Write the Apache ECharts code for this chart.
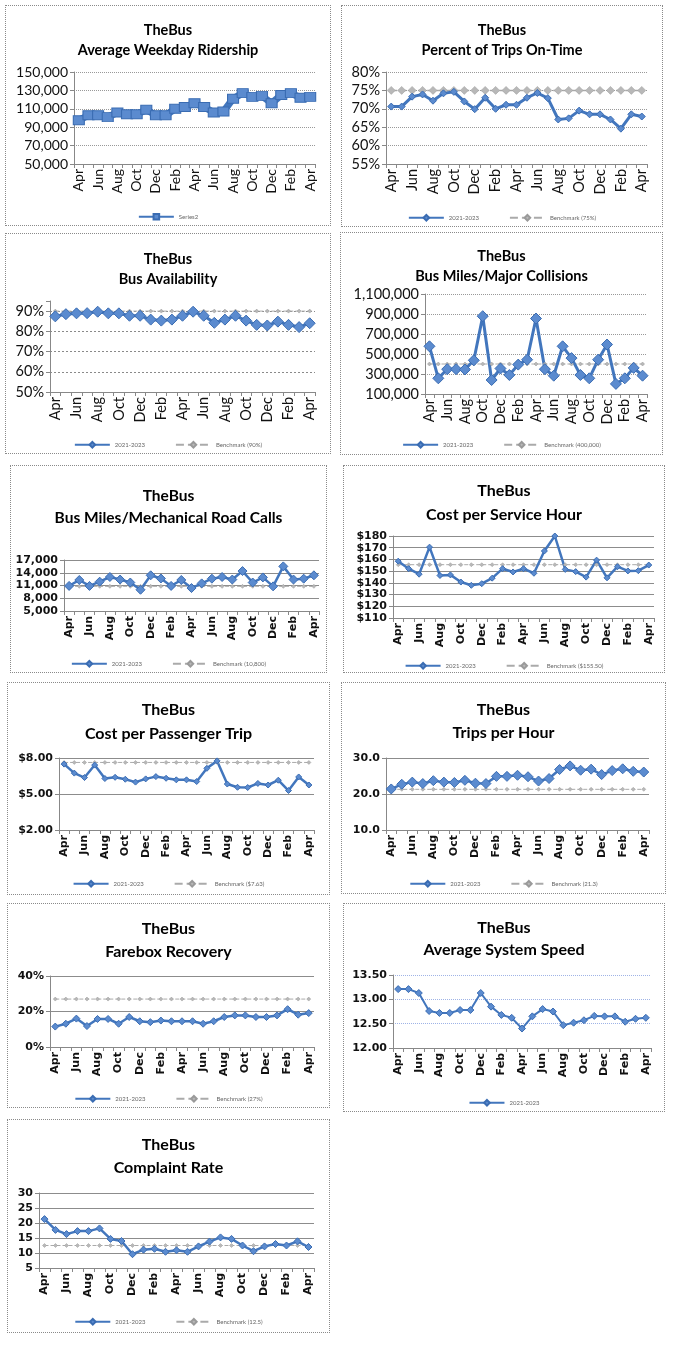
<!DOCTYPE html>
<html><head><meta charset="utf-8">
<script src="https://cdn.jsdelivr.net/npm/echarts/dist/echarts.min.js"></script>
<style>
html,body{margin:0;padding:0;background:#fff;}
body{width:679px;height:1346px;position:relative;overflow:hidden;}
.p{position:absolute;border:1px dotted #8a8a8a;box-sizing:border-box;background:#fff;}
</style></head><body>
<script>
// ---------- DATA ----------
const months = ['Apr','May','Jun','Jul','Aug','Sep','Oct','Nov','Dec','Jan','Feb','Mar','Apr','May','Jun','Jul','Aug','Sep','Oct','Nov','Dec','Jan','Feb','Mar','Apr'];

const ridership = [97500,103000,103000,101000,106000,104000,104000,109000,103000,103000,110000,112000,116000,112000,106000,107000,121000,127000,123000,124000,116000,125000,127000,122000,123000];
const onTime = [70.6,70.6,73.3,73.9,72.2,74.2,74.6,72.0,69.9,73.0,70.0,71.1,71.1,73.0,74.3,72.9,67.1,67.4,69.5,68.5,68.5,67.1,64.6,68.5,67.9];
const availability = [87.4,88.5,88.9,89.0,89.7,88.9,88.9,87.7,87.7,85.8,85.3,85.8,87.7,89.7,87.7,84.2,85.8,87.7,85.3,83.2,82.9,84.8,83.2,82.1,84.0];
const collisions = [577000,257000,348000,348000,345000,437000,878000,240000,355000,290000,394000,443000,855000,348000,283000,577000,459000,290000,257000,443000,595000,201000,257000,361000,283000];
const roadCalls = [10900,12300,10900,11900,13000,12400,11700,10000,13400,12650,10900,12300,10400,11500,12600,13000,12400,14400,11700,12900,10800,15500,12400,12600,13400];
const costHour = [158.5,152.1,147.4,170.5,146.3,146.8,140.7,137.9,139.3,144.0,152.1,149.3,152.1,148.2,167.2,180.0,151.5,149.6,144.9,159.4,144.3,153.8,150.2,150.4,155.2];
const costTrip = [7.49,6.74,6.37,7.41,6.29,6.39,6.23,5.99,6.26,6.45,6.31,6.18,6.18,6.04,7.14,7.76,5.83,5.56,5.54,5.88,5.75,6.15,5.29,6.42,5.75];
const tripsHour = [21.4,22.7,23.3,22.9,23.7,23.3,23.2,23.8,23.0,22.9,24.9,24.9,25.2,24.8,23.6,24.3,26.8,27.8,26.6,26.9,25.4,26.5,27.0,26.3,26.1];
const farebox = [11.5,13.1,16.0,11.8,15.8,15.8,13.1,16.9,14.5,14.0,14.9,14.5,14.5,14.5,13.1,14.5,16.9,17.8,17.8,16.9,16.9,17.8,21.3,18.2,19.1];
const speed = [13.21,13.21,13.13,12.76,12.72,12.72,12.78,12.78,13.13,12.85,12.68,12.62,12.40,12.65,12.80,12.75,12.47,12.52,12.57,12.66,12.65,12.65,12.54,12.60,12.62];
const complaints = [21.3,17.7,16.3,17.3,17.3,18.2,14.7,14.0,9.6,11.1,11.4,10.4,10.9,10.4,12.2,13.8,15.2,14.7,12.5,10.6,12.2,13.0,12.5,13.9,12.0];

const onTimeBench = 75;
const availBench = 90;
const collBench = 400000;
const roadBench = 10800;
const costHourBench = 155.5;
const costTripBench = 7.63;
const tripsBench = 21.3;
const fareBench = 27;
const complaintBench = 12.5;

// Bus Availability: gridlines stop at 90% while the axis runs to 95%
const availGridMax = 90;

// ---------- FORMATTERS ----------
const fmtComma = v => v.toLocaleString('en-US');
const fmtPct = v => v + '%';
const fmtDollar0 = v => '$' + v;
const fmtDollar2 = v => '$' + v.toFixed(2);
const fmt1 = v => v.toFixed(1);
const fmt2 = v => v.toFixed(2);

// ---------- PANELS (layout/style) ----------
const big = {lf:'Lato', lw:'normal', ls:14, gridType:'dotted', gridColor:'#999'};
const small = {lf:'DejaVu Sans', lw:'bold', ls:11, gridType:'solid', gridColor:'#8c8c8c'};

const panels = [
 Object.assign({}, big, {box:[5,5,326,221], title:'Average Weekday Ridership', ts:14.5, tTop:10, tLh:19.5,
   grid:{left:68,right:15,top:66,bottom:61}, data:ridership, mainName:'Series2',
   min:50000,max:150000,interval:20000, fmt:fmtComma, legendTop:202, sym:'rect', symSize:[11,9], lineW:7}),
 Object.assign({}, big, {box:[341,5,322,222], title:'Percent of Trips On-Time', ts:14.5, tTop:10, tLh:19.5,
   grid:{left:44,right:15,top:66,bottom:62}, data:onTime, mainName:'2021-2023', bench:onTimeBench, benchName:'Benchmark (75%)',
   bSym:8, bW:1.5, min:55,max:80,interval:5, fmt:fmtPct, legendTop:203, symSize:7, lineW:3, ls:14.5}),
 Object.assign({}, big, {box:[5,233,326,221], title:'Bus Availability', ts:14.5, tTop:10, tLh:20,
   grid:{left:44,right:15,top:67,bottom:61}, data:availability, mainName:'2021-2023', bench:availBench, benchName:'Benchmark (90%)',
   min:50,max:95,interval:10, fmt:v => (v % 10 === 0 ? v + '%' : ''), gridMax:availGridMax, legendTop:202, symSize:11, lineW:3, ls:14.5,
   gridColor:'#8a8a8a', gridType:[2,2]}),
 Object.assign({}, big, {box:[340,232,323,223], title:'Bus Miles/Major Collisions', ts:14.5, tTop:8, tLh:20,
   grid:{left:84,right:15,top:61,bottom:60}, data:collisions, mainName:'2021-2023', bench:collBench, benchName:'Benchmark (400,000)',
   min:100000,max:1100000,interval:200000, fmt:fmtComma, legendTop:203, symSize:11, lineW:3, ls:14.5}),
 Object.assign({}, small, {box:[10,465,317,208], title:'Bus Miles/Mechanical Road Calls', ts:15.5, tTop:14, tLh:22,
   grid:{left:53,right:7,top:94,bottom:61}, data:roadCalls, mainName:'2021-2023', bench:roadBench, benchName:'Benchmark (10,800)',
   min:5000,max:17000,interval:3000, fmt:fmtComma, legendTop:189, symSize:9, lineW:2.5}),
 Object.assign({}, small, {box:[343,465,322,208], title:'Cost per Service Hour', ts:16, tTop:8, tLh:24,
   grid:{left:49,right:10,top:70,bottom:54}, data:costHour, mainName:'2021-2023', bench:costHourBench, benchName:'Benchmark ($155.50)',
   min:110,max:180,interval:10, fmt:fmtDollar0, legendTop:191, symSize:6, lineW:2.5, ls:11, lh:9}),
 Object.assign({}, small, {box:[7,682,323,213], title:'Cost per Passenger Trip', ts:16, tTop:10, tLh:24,
   grid:{left:51,right:15,top:75,bottom:64}, data:costTrip, mainName:'2021-2023', bench:costTripBench, benchName:'Benchmark ($7.63)',
   min:2,max:8,interval:3, fmt:fmtDollar2, legendTop:192, symSize:6, lineW:2.5}),
 Object.assign({}, small, {box:[341,682,325,212], title:'Trips per Hour', ts:16, tTop:10, tLh:23.5,
   grid:{left:44,right:16,top:75,bottom:63}, data:tripsHour, mainName:'2021-2023', bench:tripsBench, benchName:'Benchmark (21.3)',
   min:10,max:30,interval:10, fmt:fmt1, legendTop:192, symSize:10, lineW:2.5}),
 Object.assign({}, small, {box:[7,903,323,205], title:'Farebox Recovery', ts:16, tTop:8, tLh:23.5,
   grid:{left:42,right:15,top:72,bottom:60}, data:farebox, mainName:'2021-2023', bench:fareBench, benchName:'Benchmark (27%)',
   min:0,max:40,interval:20, fmt:fmtPct, legendTop:186, symSize:7, lineW:2.5}),
 Object.assign({}, small, {box:[343,903,322,209], title:'Average System Speed', ts:16, tTop:7.5, tLh:22.5,
   grid:{left:49,right:13,top:71,bottom:63}, data:speed, mainName:'2021-2023',
   min:12,max:13.5,interval:0.5, fmt:fmt2, legendTop:190, symSize:7, lineW:2, gridColor:'#9fb3e6', gridType:'dotted'}),
 Object.assign({}, small, {box:[7,1119,323,214], title:'Complaint Rate', ts:16, tTop:8, tLh:23.5,
   grid:{left:31,right:15,top:73,bottom:64}, data:complaints, mainName:'2021-2023', bench:complaintBench, benchName:'Benchmark (12.5)',
   min:5,max:30,interval:5, fmt:v => String(v), legendTop:193, symSize:7, lineW:2.5})
];

function build(c){
  const div = document.createElement('div');
  div.className = 'p';
  div.style.left = c.box[0] + 'px';
  div.style.top = c.box[1] + 'px';
  div.style.width = c.box[2] + 'px';
  div.style.height = c.box[3] + 'px';
  document.body.appendChild(div);
  const ch = echarts.init(div, null, {renderer:'canvas'});
  const series = [];
  const legendData = [c.mainName];
  if (c.bench != null) {
    series.push({
      type:'line', name:c.benchName, data:months.map(() => c.bench),
      symbol:'diamond', symbolSize:c.bSym || 4, showAllSymbol:true,
      lineStyle:{color:'#aaaaaa', width:c.bW || 1, type:'dashed'},
      itemStyle:{color:'#b8b8b8', borderColor:'#9a9a9a', borderWidth:0.5},
      animation:false
    });
    legendData.push(c.benchName);
  }
  series.push({
    type:'line', name:c.mainName, data:c.data,
    symbol:c.sym || 'diamond', symbolSize:c.symSize, showAllSymbol:true,
    lineStyle:{color:'#4276BD', width:c.lineW},
    itemStyle:{color:'#5B8BCF', borderColor:'#3A6CB2', borderWidth:1},
    animation:false, z:3
  });

  const grids = [c.grid];
  const xAxes = [{type:'category', data:months, boundaryGap:true,
      axisLine:{lineStyle:{color:'#888'}},
      axisTick:{show:true, interval:0, length:4, lineStyle:{color:'#888'}},
      axisLabel:{interval:1, rotate:90, fontFamily:c.lf, fontWeight:c.lw, fontSize:c.ls, color:'#111', margin:5},
      splitLine:{show:false}}];
  const yAxes = [{type:'value', min:c.min, max:c.max, interval:c.interval,
      axisLine:{show:true, lineStyle:{color:'#888'}},
      axisTick:{show:true, length:4, lineStyle:{color:'#888'}},
      axisLabel:{formatter:c.fmt, fontFamily:c.lf, fontWeight:c.lw, fontSize:c.ls, color:'#111', margin:6,
        lineHeight:c.lh || undefined, showMinLabel:true, showMaxLabel:true, hideOverlap:false},
      splitLine:{show:c.gridMax == null, lineStyle:{color:c.gridColor, type:c.gridType, width:1}}}];

  if (c.gridMax != null) {
    const innerH = c.box[3] - 2;
    const plotH = innerH - c.grid.top - c.grid.bottom;
    const topOffset = c.grid.top + (c.max - c.gridMax) / (c.max - c.min) * plotH;
    grids.push({left:c.grid.left, right:c.grid.right, bottom:c.grid.bottom, top:topOffset});
    xAxes.push({type:'category', data:months, gridIndex:1, boundaryGap:true,
      axisLine:{show:false}, axisTick:{show:false}, axisLabel:{show:false}, splitLine:{show:false}});
    yAxes.push({type:'value', gridIndex:1, min:c.min, max:c.gridMax, interval:c.interval,
      axisLine:{show:false}, axisTick:{show:false}, axisLabel:{show:false},
      splitLine:{show:true, lineStyle:{color:c.gridColor, type:c.gridType, width:1}}});
  }

  ch.setOption({
    animation:false,
    title:{text:'TheBus\n' + c.title, left:'center', top:c.tTop,
      textStyle:{fontFamily:'Lato', fontWeight:'bold', fontSize:c.ts, lineHeight:c.tLh, color:'#000'}},
    legend:{data:legendData, top:c.legendTop, left:'center', itemWidth:35, itemHeight:7, itemGap:30,
      textStyle:{fontSize:6, color:'#666', fontFamily:'Lato'}},
    grid:grids,
    xAxis:xAxes,
    yAxis:yAxes,
    series:series
  });
}
panels.forEach(build);
</script>
</body></html>
